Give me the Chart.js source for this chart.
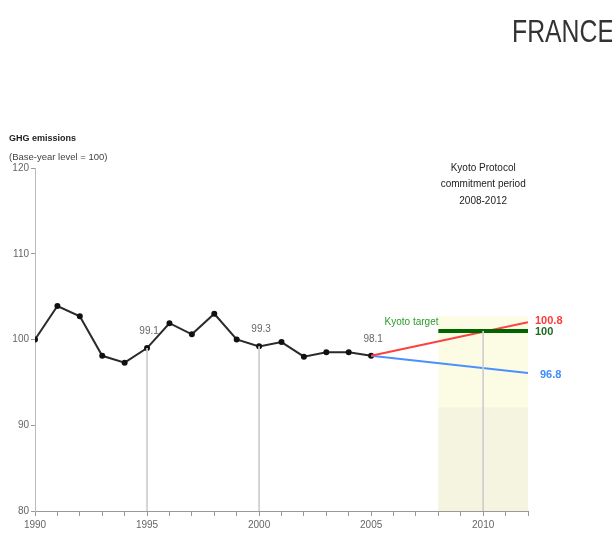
<!DOCTYPE html>
<html>
<head>
<meta charset="utf-8">
<script src="https://cdn.jsdelivr.net/npm/chart.js@4.4.0/dist/chart.umd.min.js"></script>
<style>
  html, body { margin: 0; padding: 0; background: #fff; }
  #wrap { position: relative; width: 612px; height: 537px; }
</style>
</head>
<body>
<div id="wrap"><canvas id="ghg" width="612" height="537"></canvas></div>
<script>
// emissions index, base year = 100
var years = [1990,1991,1992,1993,1994,1995,1996,1997,1998,1999,2000,2001,2002,2003,2004,2005];
var emissions = [100,103.9,102.7,98.1,97.3,99.0,101.9,100.6,103.0,100.0,99.2,99.7,98.0,98.5,98.5,98.1];
var projYears = [2005,2012];
var projHigh = [98.1,102.0];
var projLow = [98.1,96.1];
var targetYears = [2008,2012];
var targetValue = 101.0;
var periodYears = [2008,2012];
var periodTop = 102.7;
var dropYears = [1995,2000,2010];
var dropTops = [99.0,99.2,101.0];
var yTicks = [80,90,100,110,120];
var xLabelYears = [1990,1995,2000,2005,2010];
var pointLabels = [{x:1995,y:99.0,t:"99.1"},{x:2000,y:99.2,t:"99.3"},{x:2005,y:98.1,t:"98.1"}];
var endLabels = [{y:102.0,t:"100.8",c:"#ff3a3a"},{y:101.0,t:"100",c:"#1f6b1f"},{y:96.1,t:"96.8",c:"#3d8cff"}];

function pts(xs, ys) {
  return xs.map(function (x, i) { return {x: x, y: ys[i]}; });
}

var datasets = [];
dropYears.forEach(function (yr, i) {
  datasets.push({
    data: [{x: yr, y: dropTops[i]}, {x: yr, y: 80}],
    borderColor: "#cfcfcf", borderWidth: 1, pointRadius: 0
  });
});
datasets.push({
  data: pts(targetYears, [targetValue, targetValue]),
  borderColor: "#006400", borderWidth: 4, pointRadius: 0
});
datasets.push({
  data: pts(projYears, projHigh),
  borderColor: "#ff4040", borderWidth: 2, pointRadius: 0
});
datasets.push({
  data: pts(projYears, projLow),
  borderColor: "#4a90ff", borderWidth: 2, pointRadius: 0
});
datasets.push({
  data: pts(years, emissions),
  borderColor: "#2a2a2a", borderWidth: 2,
  pointRadius: 2, pointBackgroundColor: "#111", pointBorderColor: "#111",
  tension: 0
});

var bandPlugin = {
  id: "band",
  beforeDatasetsDraw: function (chart) {
    var c = chart.ctx, x = chart.scales.x, y = chart.scales.y;
    var x0 = x.getPixelForValue(periodYears[0]), x1 = x.getPixelForValue(periodYears[1]);
    var yt = y.getPixelForValue(periodTop), yb = y.getPixelForValue(80);
    c.save();
    c.fillStyle = "#fcfce4";
    c.fillRect(x0, yt, x1 - x0, yb - yt);
    c.fillStyle = "#f4f4e0";
    c.fillRect(x0, y.getPixelForValue(92.1), x1 - x0, yb - y.getPixelForValue(92.1));
    c.restore();
  }
};

var textPlugin = {
  id: "texts",
  afterDatasetsDraw: function (chart) {
    var c = chart.ctx, x = chart.scales.x, y = chart.scales.y;
    c.save();
    c.textBaseline = "middle";
    c.font = "bold 9px 'Liberation Sans', Arial, sans-serif";
    c.fillStyle = "#222";
    c.textAlign = "left";
    c.fillText("GHG emissions", 9, 139);
    c.font = "9.5px 'Liberation Sans', Arial, sans-serif";
    c.fillStyle = "#444";
    c.fillText("(Base-year level = 100)", 9, 157);

    c.textAlign = "center";
    c.fillStyle = "#222";
    c.font = "10px 'Liberation Sans', Arial, sans-serif";
    var kx = x.getPixelForValue(2010);
    c.fillText("Kyoto Protocol", kx, 168);
    c.fillText("commitment period", kx, 184);
    c.fillText("2008-2012", kx, 201);

    c.font = "10px 'Liberation Sans', Arial, sans-serif";
    c.fillStyle = "#666";
    c.textAlign = "center";
    pointLabels.forEach(function (p) {
      var px = x.getPixelForValue(p.x), py = y.getPixelForValue(p.y);
      c.fillText(p.t, px + 2, py - 17);
    });

    c.textAlign = "left";
    c.fillStyle = "#2e9a2e";
    c.fillText("Kyoto target", x.getPixelForValue(2005.6), y.getPixelForValue(targetValue) - 9);

    c.font = "bold 11px 'Liberation Sans', Arial, sans-serif";
    var ex = x.getPixelForValue(2012) + 7;
    endLabels.forEach(function (l, i) {
      c.fillStyle = l.c;
      var off = i === 0 ? -1 : (i === 1 ? 1 : 2);
      c.fillText(l.t, ex + (i === 2 ? 5 : 0), y.getPixelForValue(l.y) + off);
    });

    c.fillStyle = "#333";
    c.font = "31px 'Liberation Sans', Arial, sans-serif";
    c.translate(512, 33);
    c.scale(0.8, 1);
    c.fillText("FRANCE", 0, 0);
    c.restore();
  }
};

new Chart(document.getElementById("ghg"), {
  type: "line",
  data: { datasets: datasets },
  options: {
    responsive: false,
    animation: false,
    layout: { padding: { top: 168, right: 84, left: 0, bottom: 0 } },
    plugins: { legend: { display: false }, tooltip: { enabled: false } },
    scales: {
      x: {
        type: "linear", min: 1990, max: 2012,
        afterFit: function (s) { s.height = 26; },
        afterBuildTicks: function (s) {
          var t = [];
          for (var v = 1990; v <= 2012; v++) t.push({value: v});
          s.ticks = t;
        },
        ticks: {
          autoSkip: false, maxRotation: 0, padding: 3,
          color: "#666", font: { size: 10, family: "'Liberation Sans', Arial, sans-serif" },
          callback: function (v) { return xLabelYears.indexOf(v) >= 0 ? String(v) : ""; }
        },
        grid: { drawOnChartArea: false, tickLength: 5, color: "#999" },
        border: { color: "#999" }
      },
      y: {
        min: 80, max: 120,
        afterFit: function (s) { s.width = 35; },
        afterBuildTicks: function (s) {
          s.ticks = yTicks.map(function (v) { return {value: v}; });
        },
        ticks: {
          color: "#666", padding: 2,
          font: { size: 10, family: "'Liberation Sans', Arial, sans-serif" }
        },
        grid: { drawOnChartArea: false, tickLength: 4, color: "#999" },
        border: { color: "#bbb" }
      }
    }
  },
  plugins: [bandPlugin, textPlugin]
});
</script>
</body>
</html>
